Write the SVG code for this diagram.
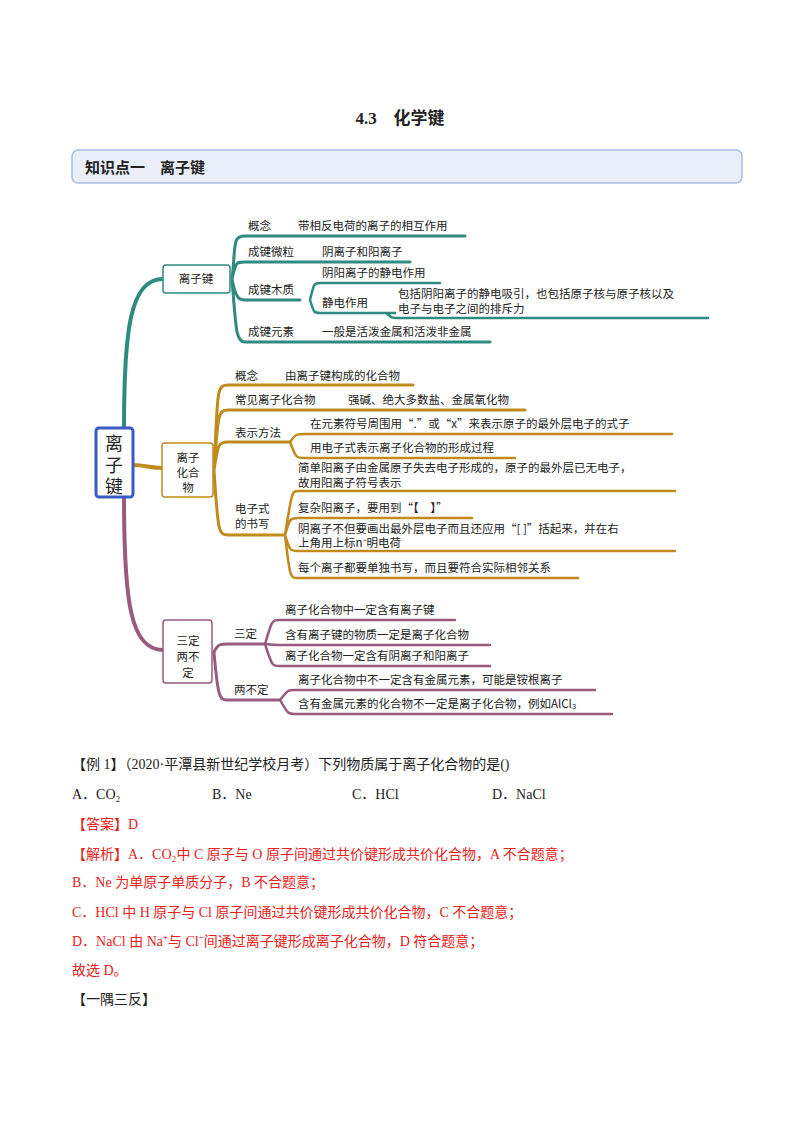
<svg xmlns="http://www.w3.org/2000/svg" width="800" height="1132" viewBox="0 0 800 1132">
<style>
text{font-family:"Liberation Serif","Noto Sans CJK SC",serif;fill:#222}
.m{font-size:11.5px;font-family:"Noto Sans CJK SC",sans-serif}
.b{font-size:14px}
.r{fill:#e8221c}
.t{stroke:#2e8b7e;fill:none}
.g{stroke:#c08a1c;fill:none}
.p{stroke:#9a5a7c;fill:none}
.box{fill:#fff;stroke-width:1.5}
</style>
<rect width="800" height="1132" fill="#fff"/>
<text x="400" y="124" text-anchor="middle" font-size="17" font-weight="bold">4.3　化学键</text>
<g id="header"><rect x="72" y="150" width="670" height="33" rx="6" fill="#e9eef8" stroke="#a9bde2" stroke-width="1.5"/>
<text x="85" y="173" font-size="15" font-weight="bold">知识点一　离子键</text></g>
<g id="connectors" stroke-linecap="round">
<path class="t" stroke-width="4" d="M124 428 C124 330 130 279 163 279"/>
<path class="t" stroke-width="3" d="M232 279 C236 245 232 236 245 236 L465 236 M232 279 C236 262 236 262 245 262 L410 262 M232 279 C236 300 240 300 245 300 L300 300 M232 279 C236 330 236 342 245 342 L490 342"/>
<path class="t" stroke-width="2.5" d="M310 300 C314 283 314 283 320 283 L440 283 M310 300 C314 313 314 313 320 313 L395 313 M386 313 C392 318 392 318 398 318 L708 318"/>
<path class="g" stroke-width="4" d="M133 465 C145 465 150 468 162 468"/>
<path class="g" stroke-width="3" d="M214 470 C218 392 216 385 228 385 L413 385 M214 470 C218 415 218 410 228 410 L525 410 M214 470 C218 445 218 442 228 442 L290 442 M214 470 C218 530 218 535 228 535 L285 535"/>
<path class="g" stroke-width="2.5" d="M290 442 C296 434 296 434 305 434 L672 434 M290 442 C296 458 296 458 305 458 L515 458 M285 535 C292 491 292 491 298 491 L675 491 M285 535 C290 518 290 518 298 518 L472 518 M285 535 C290 551 290 551 298 551 L675 551 M285 535 C290 578 290 578 298 578 L578 578"/>
<path class="p" stroke-width="4" d="M124 497 C124 600 130 650 163 650"/>
<path class="p" stroke-width="3" d="M214 652 C218 644 220 644 228 644 L265 644 M214 652 C218 700 220 700 228 700 L280 700"/>
<path class="p" stroke-width="2.5" d="M265 644 C272 620 272 620 280 620 L455 620 M265 644 C272 645 272 645 280 645 L490 645 M265 644 C272 666 272 666 280 666 L490 666 M280 700 C288 690 288 690 295 690 L595 690 M280 700 C288 714 288 714 295 714 L612 714"/>
</g>
<g id="root"><rect x="96" y="428" width="37" height="69" rx="3" fill="#fff" stroke="#3b5bc4" stroke-width="3"/>
<text x="114" y="450" text-anchor="middle" font-size="18" font-family="Noto Sans CJK SC,sans-serif">离</text>
<text x="114" y="472" text-anchor="middle" font-size="18" font-family="Noto Sans CJK SC,sans-serif">子</text>
<text x="114" y="493" text-anchor="middle" font-size="18" font-family="Noto Sans CJK SC,sans-serif">键</text></g>
<g id="n1"><rect class="box" x="163" y="265" width="67" height="28" rx="3" stroke="#2e8b7e"/><text class="m" x="196" y="283" text-anchor="middle">离子键</text>
<text class="m" x="248" y="230">概念</text><text class="m" x="298" y="230">带相反电荷的离子的相互作用</text>
<text class="m" x="248" y="256">成键微粒</text><text class="m" x="322" y="256">阴离子和阳离子</text>
<text class="m" x="248" y="294">成键木质</text><text class="m" x="322" y="277">阴阳离子的静电作用</text>
<text class="m" x="322" y="307">静电作用</text><text class="m" x="398" y="298">包括阴阳离子的静电吸引，也包括原子核与原子核以及</text><text class="m" x="398" y="313">电子与电子之间的排斥力</text>
<text class="m" x="248" y="336">成键元素</text><text class="m" x="322" y="336">一般是活泼金属和活泼非金属</text></g>
<g id="n2"><rect class="box" x="162" y="443" width="51" height="54" rx="3" stroke="#c08a1c"/>
<text class="m" x="188" y="462" text-anchor="middle">离子</text><text class="m" x="188" y="477" text-anchor="middle">化合</text><text class="m" x="188" y="492" text-anchor="middle">物</text>
<text class="m" x="235" y="380">概念</text><text class="m" x="285" y="380">由离子键构成的化合物</text>
<text class="m" x="235" y="404">常见离子化合物</text><text class="m" x="348" y="404">强碱、绝大多数盐、金属氧化物</text>
<text class="m" x="235" y="437">表示方法</text><text class="m" x="310" y="428">在元素符号周围用“.”或“x”来表示原子的最外层电子的式子</text><text class="m" x="310" y="452">用电子式表示离子化合物的形成过程</text>
<text class="m" x="235" y="513">电子式</text><text class="m" x="235" y="528">的书写</text>
<text class="m" x="298" y="472">简单阳离子由金属原子失去电子形成的，原子的最外层已无电子，</text><text class="m" x="298" y="487">故用阳离子符号表示</text>
<text class="m" x="298" y="512">复杂阳离子，要用到“【　】”</text>
<text class="m" x="298" y="533">阴离子不但要画出最外层电子而且还应用“[ ]”括起来，并在右</text><text class="m" x="298" y="547">上角用上标n⁻明电荷</text>
<text class="m" x="298" y="572">每个离子都要单独书写，而且要符合实际相邻关系</text></g>
<g id="n3"><rect class="box" x="163" y="620" width="49" height="63" rx="3" stroke="#9a5a7c"/>
<text class="m" x="188" y="645" text-anchor="middle">三定</text><text class="m" x="188" y="661" text-anchor="middle">两不</text><text class="m" x="188" y="677" text-anchor="middle">定</text>
<text class="m" x="234" y="638">三定</text>
<text class="m" x="285" y="614">离子化合物中一定含有离子键</text><text class="m" x="285" y="639">含有离子键的物质一定是离子化合物</text><text class="m" x="285" y="660">离子化合物一定含有阴离子和阳离子</text>
<text class="m" x="234" y="694">两不定</text>
<text class="m" x="298" y="684">离子化合物中不一定含有金属元素，可能是铵根离子</text><text class="m" x="298" y="708">含有金属元素的化合物不一定是离子化合物，例如AlCl₃</text></g>
<g id="text">
<text class="b" x="72" y="769">【例 1】（2020·平潭县新世纪学校月考）下列物质属于离子化合物的是()</text>
<text class="b" x="72" y="799">A．CO₂</text><text class="b" x="212" y="799">B．Ne</text><text class="b" x="352" y="799">C．HCl</text><text class="b" x="492" y="799">D．NaCl</text>
<text class="b r" x="72" y="829">【答案】D</text>
<text class="b r" x="72" y="859">【解析】A．CO₂中 C 原子与 O 原子间通过共价键形成共价化合物，A 不合题意；</text>
<text class="b r" x="72" y="887">B．Ne 为单原子单质分子，B 不合题意；</text>
<text class="b r" x="72" y="917">C．HCl 中 H 原子与 Cl 原子间通过共价键形成共价化合物，C 不合题意；</text>
<text class="b r" x="72" y="946">D．NaCl 由 Na⁺与 Cl⁻间通过离子键形成离子化合物，D 符合题意；</text>
<text class="b r" x="72" y="975">故选 D。</text>
<text class="b" x="72" y="1004">【一隅三反】</text></g>
</svg>
